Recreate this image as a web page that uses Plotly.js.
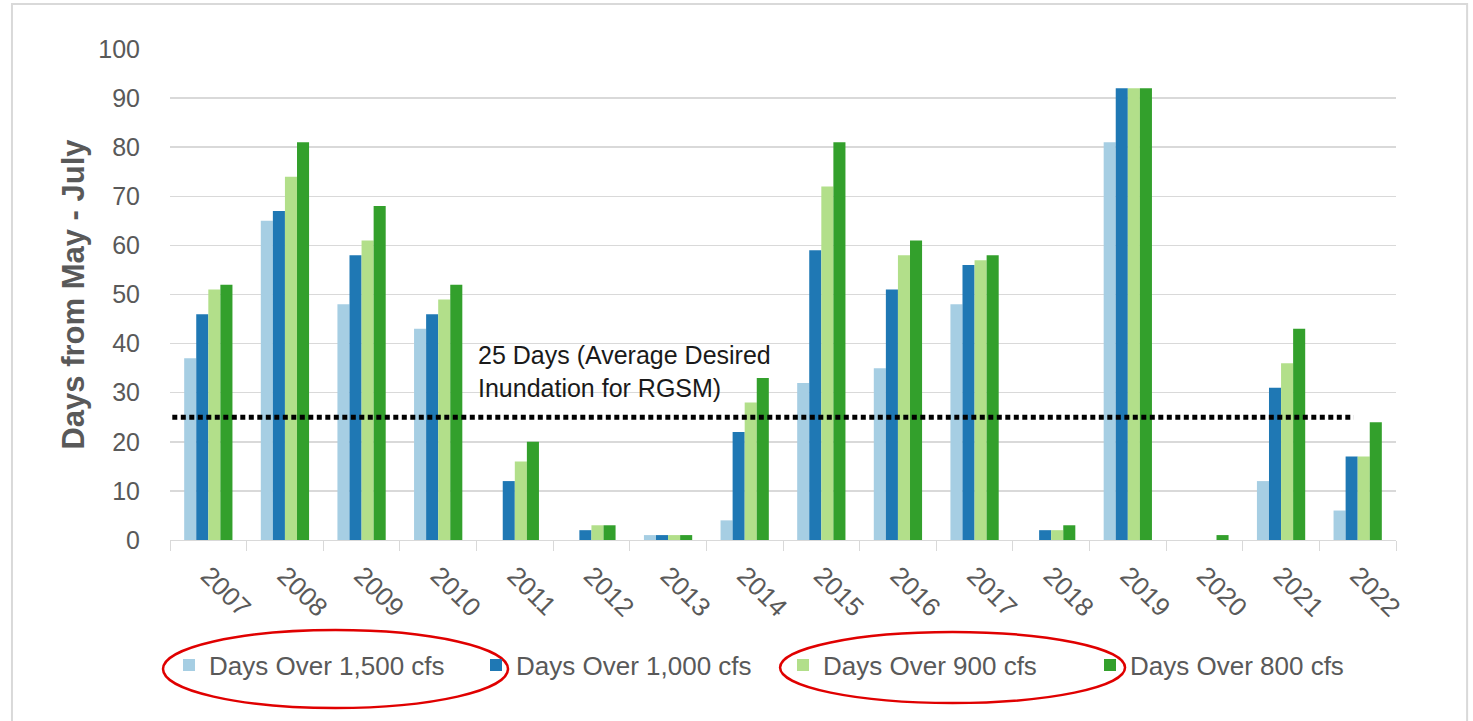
<!DOCTYPE html>
<html>
<head>
<meta charset="utf-8">
<script src="https://cdn.plot.ly/plotly-3.0.1.min.js"></script>
<style>html,body{margin:0;padding:0;background:#fff;}#chart{width:1473px;height:721px;}</style>
</head>
<body>
<div id="chart"></div>
<script>
var years = ["2007","2008","2009","2010","2011","2012","2013","2014","2015","2016","2017","2018","2019","2020","2021","2022"];
var over1500 = [37, 65, 48, 43, 0, 0, 1, 4, 32, 35, 48, 0, 81, 0, 12, 6];
var over1000 = [46, 67, 58, 46, 12, 2, 1, 22, 59, 51, 56, 2, 92, 0, 31, 17];
var over900  = [51, 74, 61, 49, 16, 3, 1, 28, 72, 58, 57, 2, 92, 0, 36, 17];
var over800  = [52, 81, 68, 52, 20, 3, 1, 33, 81, 61, 58, 3, 92, 1, 43, 24];
var seriesNames = ["Days Over 1,500 cfs", "Days Over 1,000 cfs", "Days Over 900 cfs", "Days Over 800 cfs"];
var thresholdX = [-0.47, 14.95];
var thresholdY = [25, 25];
var thresholdLabel = "25 Days (Average Desired<br>Inundation for RGSM)";

var colors = ["#a6cee3", "#1f78b4", "#b2df8a", "#33a02c"];
var vals = [over1500, over1000, over900, over800];
var traces = vals.map(function(v, i){
  return {type:"bar", x: years, y: v, name: seriesNames[i], marker:{color: colors[i]}, hoverinfo:"y"};
});
traces.push({type:"scatter", mode:"lines", x: thresholdX, y: thresholdY, xaxis:"x2", yaxis:"y",
  line:{color:"#000", width:5, dash:"5px,3.5px"}, showlegend:false});

var layout = {
  width:1473, height:721,
  margin:{l:170, r:77, t:49, b:181},
  paper_bgcolor:"#fff", plot_bgcolor:"#fff",
  barmode:"group", bargap:0.37, bargroupgap:0,
  font:{family:"Liberation Sans, Arial, sans-serif", color:"#595959"},
  xaxis:{type:"category", tickson:"boundaries", ticks:"outside", ticklen:10, tickcolor:"#d9d9d9",
    showline:true, linecolor:"#d9d9d9", linewidth:1, tickangle:45, showgrid:false,
    ticklabelstandoff:9, tickfont:{size:26, color:"#595959"}},
  xaxis2:{overlaying:"x", range:[-0.5,15.5], visible:false, fixedrange:true},
  yaxis:{range:[0,100], dtick:10, showgrid:true, gridcolor:"#d9d9d9", gridwidth:1.5, zeroline:false,
    tickfont:{size:25, color:"#595959"}, ticklabelstandoff:29,
    title:{text:"<b>Days from May - July</b>", font:{size:31, color:"#595959"}, standoff:4}},
  legend:{orientation:"h", x:0.5, xanchor:"center", y:-0.255, yanchor:"middle", bgcolor:"rgba(0,0,0,0)",
    font:{size:26, color:"#595959"}, traceorder:"normal", itemwidth:30, entrywidth:262, entrywidthmode:"pixels"},
  annotations:[{xref:"paper", yref:"y", x:0.2496, y:41, xanchor:"left", yanchor:"top", align:"left",
    showarrow:false, text: thresholdLabel, font:{size:25, color:"#1a1a1a", family:"Liberation Sans, Arial, sans-serif"}}],
  shapes:[
    {type:"rect", xref:"paper", yref:"paper", x0:-0.1289, x1:1.058, y0:-0.38, y1:1.0916, line:{color:"#d9d9d9", width:2}},
    {type:"circle", xref:"paper", yref:"paper", x0:-0.0057, x1:0.2757, y0:-0.3422, y1:-0.1833, line:{color:"#e00000", width:2.5}},
    {type:"circle", xref:"paper", yref:"paper", x0:0.4976, x1:0.779, y0:-0.332, y1:-0.1874, line:{color:"#e00000", width:2.5}}
  ]
};
Plotly.newPlot("chart", traces, layout, {displayModeBar:false, staticPlot:true});
</script>
</body>
</html>
